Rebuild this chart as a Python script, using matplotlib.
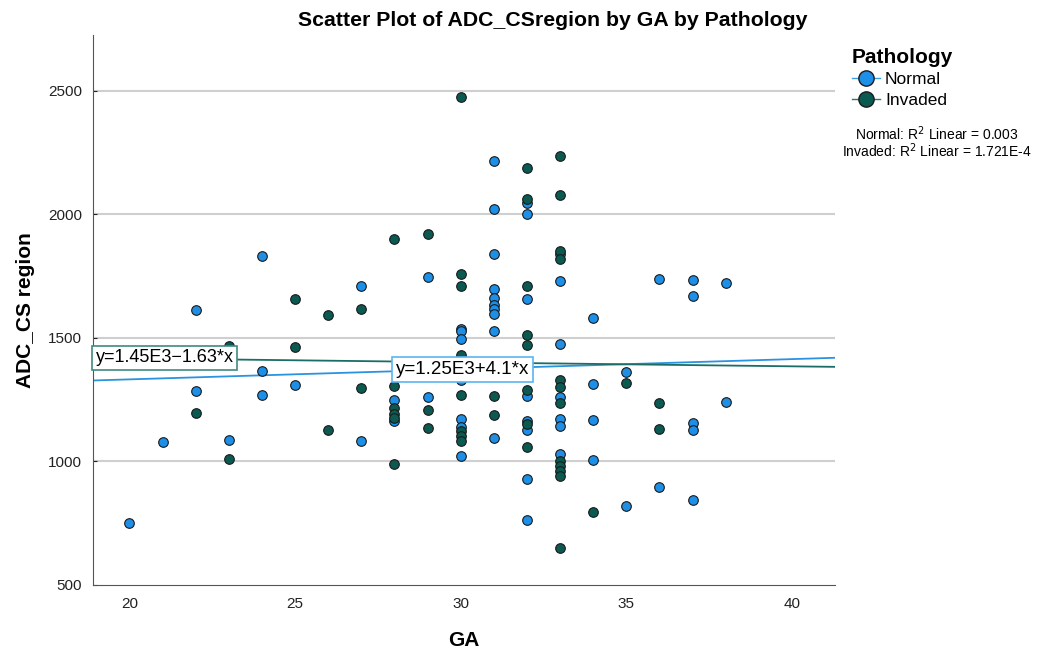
import numpy as np
import matplotlib.pyplot as plt
from matplotlib.lines import Line2D

plt.rcParams['font.family'] = ['Liberation Sans', 'DejaVu Sans']

# Normal group
ga_normal = [20, 21, 22, 22, 23, 24, 24, 24, 25, 27, 27, 28, 28, 29, 29,
             30, 30, 30, 30, 30, 30, 30, 30,
             31, 31, 31, 31, 31, 31, 31, 31, 31, 31,
             32, 32, 32, 32, 32, 32, 32, 32,
             33, 33, 33, 33, 33, 33, 33,
             34, 34, 34, 34, 35, 35, 36, 36, 37, 37, 37, 37, 37, 38, 38]
adc_normal = [751, 1079, 1611, 1285, 1088, 1830, 1365, 1269, 1310, 1711, 1083, 1249, 1165, 1745, 1260,
              1537, 1527, 1495, 1390, 1330, 1172, 1138, 1022,
              2217, 2022, 1838, 1698, 1660, 1632, 1615, 1597, 1527, 1095,
              2044, 2000, 1659, 1266, 1165, 1127, 929, 764,
              1841, 1732, 1476, 1260, 1172, 1145, 1030,
              1581, 1314, 1168, 1006, 1361, 818, 1737, 895, 1733, 1669, 1156, 1129, 845, 1723, 1239]

# Invaded group
ga_invaded = [22, 23, 23, 25, 25, 26, 26, 27, 27,
              28, 28, 28, 28, 28, 28, 29, 29, 29,
              30, 30, 30, 30, 30, 30, 30, 30,
              31, 31,
              32, 32, 32, 32, 32, 32, 32, 32,
              33, 33, 33, 33, 33, 33, 33, 33, 33, 33, 33, 33,
              34, 35, 36, 36]
adc_invaded = [1195, 1469, 1011, 1656, 1464, 1594, 1126, 1616, 1296,
               1898, 1304, 1217, 1192, 1176, 988, 1919, 1208, 1135,
               2474, 1760, 1711, 1430, 1270, 1122, 1104, 1084,
               1265, 1187,
               2186, 2060, 1711, 1510, 1473, 1291, 1150, 1057,
               2236, 2077, 1850, 1818, 1330, 1300, 1235, 1003, 980, 962, 943, 651,
               796, 1318, 1235, 1131]

# fit lines as reported
fit_normal = (1250, 4.1)
fit_invaded = (1450, -1.63)

blue = '#1E8FE6'
teal = '#0B5A52'

fig = plt.figure(figsize=(10.59, 6.5), dpi=100)
ax = fig.add_axes([0.0878, 0.1, 0.7007, 0.846])

xlim = (18.9, 41.3)
ax.set_xlim(*xlim)
ax.set_ylim(500, 2725)

ax.set_yticks([500, 1000, 1500, 2000, 2500])
ax.set_xticks([20, 25, 30, 35, 40])
for v in [1000, 1500, 2000, 2500]:
    ax.axhline(v, color='#cfcfcf', lw=1.5, zorder=0)

xs = np.array(xlim)
ax.plot(xs, fit_normal[0] + fit_normal[1] * xs, color='#2A93E0', lw=1.3, zorder=2)
ax.plot(xs, fit_invaded[0] + fit_invaded[1] * xs, color='#1A6E66', lw=1.3, zorder=2)

ax.scatter(ga_normal, adc_normal, s=48, color=blue, edgecolor='#1a1a1a', lw=0.8, zorder=3)
ax.scatter(ga_invaded, adc_invaded, s=48, color=teal, edgecolor='#1a1a1a', lw=0.8, zorder=3)

ax.text(18.98, 1420, 'y=1.45E3\u22121.63*x', fontsize=13, va='center', ha='left', zorder=5,
        bbox=dict(boxstyle='square,pad=0.2', fc='white', ec='#3F8A82', lw=1.2))
ax.text(28.05, 1372, 'y=1.25E3+4.1*x', fontsize=13.5, va='center', ha='left', zorder=5,
        bbox=dict(boxstyle='square,pad=0.2', fc='white', ec='#5BB5F0', lw=1.2))

for s in ['top', 'right']:
    ax.spines[s].set_visible(False)
for s in ['left', 'bottom']:
    ax.spines[s].set_color('#555555')
ax.tick_params(axis='x', length=0, pad=9, labelsize=11, colors='#222222')
ax.tick_params(axis='y', length=3, direction='in', pad=8, labelsize=11, colors='#222222')

ax.set_xlabel('GA', fontsize=15, fontweight='bold', labelpad=14)
ax.set_ylabel('ADC_CS region', fontsize=15, fontweight='bold', labelpad=9)
fig.text(0.522, 0.968, 'Scatter Plot of ADC_CSregion by GA by Pathology',
         ha='center', va='center', fontsize=15.3, fontweight='bold')

handles = [Line2D([0], [0], color='#3aa0e6', lw=1, marker='o', ms=11, mfc=blue, mec='#1a1a1a'),
           Line2D([0], [0], color='#2a7a72', lw=1, marker='o', ms=11, mfc=teal, mec='#1a1a1a')]
leg = fig.legend(handles, ['Normal', 'Invaded'], loc='upper left', bbox_to_anchor=(0.793, 0.945),
                 frameon=False, title='Pathology', fontsize=12.5, handlelength=1.6,
                 handletextpad=0.3, labelspacing=0.3, borderpad=0.2)
leg.get_title().set_fontweight('bold')
leg.get_title().set_fontsize(15)
leg._legend_box.align = 'left'

fig.text(0.885, 0.795, 'Normal: R$^2$ Linear = 0.003', ha='center', va='center', fontsize=10)
fig.text(0.885, 0.768, 'Invaded: R$^2$ Linear = 1.721E-4', ha='center', va='center', fontsize=10)

fig.savefig('out.png', dpi=100)
